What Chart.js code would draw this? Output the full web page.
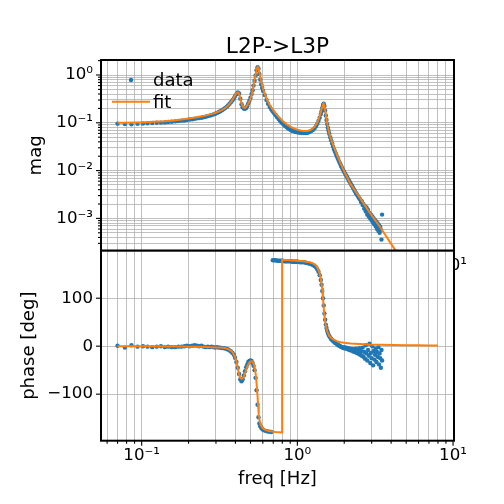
<!DOCTYPE html>
<html>
<head>
<meta charset="utf-8">
<title>L2P->L3P</title>
<script src="https://cdn.jsdelivr.net/npm/chart.js@4.4.1/dist/chart.umd.min.js"></script>
<style>
  html, body { margin: 0; padding: 0; background: #fff; }
  #wrap { position: relative; width: 504px; height: 504px; }
  #wrap canvas { position: absolute; left: 0; top: 0; }
</style>
</head>
<body>
<div id="wrap">
  <canvas id="mag-chart" width="504" height="504"></canvas>
  <canvas id="phase-chart" width="504" height="504"></canvas>
</div>
<script>
const freqData = [
  0.070, 0.078, 0.086, 0.094, 0.102, 0.109, 0.117, 0.125, 0.133, 0.141,
  0.148, 0.156, 0.164, 0.172, 0.180, 0.188, 0.195, 0.203, 0.211, 0.219,
  0.227, 0.234, 0.242, 0.250, 0.258, 0.266, 0.273, 0.281, 0.289, 0.297,
  0.305, 0.313, 0.320, 0.328, 0.336, 0.344, 0.352, 0.359, 0.367, 0.375,
  0.383, 0.391, 0.398, 0.406, 0.414, 0.422, 0.430, 0.438, 0.445, 0.453,
  0.461, 0.469, 0.477, 0.484, 0.492, 0.500, 0.508, 0.516, 0.523, 0.531,
  0.539, 0.547, 0.555, 0.563, 0.570, 0.578, 0.586, 0.594, 0.602, 0.617,
  0.633, 0.648, 0.664, 0.680, 0.695, 0.711, 0.727, 0.742, 0.758, 0.773,
  0.789, 0.805, 0.820, 0.836, 0.852, 0.867, 0.883, 0.898, 0.914, 0.930,
  0.945, 0.961, 0.977, 0.992, 1.008, 1.039, 1.070, 1.102, 1.133, 1.164,
  1.195, 1.227, 1.258, 1.289, 1.320, 1.344, 1.367, 1.391, 1.414, 1.430,
  1.445, 1.461, 1.477, 1.492, 1.508, 1.523, 1.539, 1.555, 1.570, 1.586,
  1.602, 1.625, 1.648, 1.672, 1.695, 1.719, 1.742, 1.766, 1.789, 1.813,
  1.836, 1.859, 1.883, 1.906, 1.930, 1.953, 1.977, 2.000, 2.031, 2.063,
  2.094, 2.125, 2.156, 2.188, 2.219, 2.250, 2.281, 2.313, 2.344, 2.375,
  2.406, 2.438, 2.469, 2.500, 2.531, 2.563, 2.594, 2.625, 2.656, 2.688,
  2.719, 2.750, 2.781, 2.813, 2.844, 2.875, 2.906, 2.938, 2.969, 3.000,
  3.031, 3.063, 3.094, 3.125, 3.156, 3.188, 3.219, 3.250, 3.281, 3.313,
  3.344, 3.375, 3.406, 3.438, 3.469, 3.500
];
const magData = [
  0.096, 0.094, 0.093, 0.095, 0.097, 0.098, 0.099, 0.100, 0.101, 0.102,
  0.104, 0.105, 0.107, 0.109, 0.111, 0.112, 0.114, 0.117, 0.118, 0.121,
  0.124, 0.126, 0.128, 0.131, 0.134, 0.138, 0.141, 0.145, 0.150, 0.155,
  0.161, 0.168, 0.175, 0.183, 0.193, 0.205, 0.218, 0.232, 0.250, 0.272,
  0.297, 0.326, 0.362, 0.398, 0.430, 0.410, 0.320, 0.245, 0.212, 0.198,
  0.196, 0.205, 0.225, 0.255, 0.290, 0.335, 0.400, 0.480, 0.600, 0.760,
  0.980, 1.250, 1.450, 1.350, 1.050, 0.800, 0.640, 0.540, 0.470, 0.380,
  0.300, 0.250, 0.215, 0.190, 0.172, 0.157, 0.144, 0.131, 0.120, 0.111,
  0.103, 0.097, 0.091, 0.086, 0.082, 0.078, 0.075, 0.072, 0.070, 0.068,
  0.067, 0.066, 0.065, 0.064, 0.063, 0.062, 0.061, 0.061, 0.061, 0.062,
  0.064, 0.067, 0.071, 0.077, 0.086, 0.096, 0.110, 0.128, 0.152, 0.175,
  0.205, 0.235, 0.250, 0.225, 0.180, 0.142, 0.115, 0.094, 0.079, 0.068,
  0.059, 0.050, 0.043, 0.037, 0.032, 0.028, 0.025, 0.0225, 0.0203, 0.0183,
  0.0166, 0.0152, 0.0139, 0.0127, 0.0117, 0.0108, 0.0100, 0.0093, 0.0085, 0.0078,
  0.0071, 0.0065, 0.0060, 0.0055, 0.0051, 0.0047, 0.0043, 0.0040, 0.0037, 0.0034,
  0.0032, 0.0030, 0.0028, 0.0026, 0.0025, 0.0022, 0.0023, 0.0019, 0.0020, 0.0016,
  0.0018, 0.0014, 0.0017, 0.0012, 0.0015, 0.0011, 0.0013, 0.0010, 0.0012, 0.00090,
  0.00110, 0.00082, 0.00100, 0.00075, 0.00092, 0.00068, 0.00085, 0.00060, 0.00078, 0.00055,
  0.00072, 0.00050, 0.00066, 0.00058, 0.00036, 0.00120
];
const phaseData = [
  1, -3, 2, -1, 0, -1, -2, -1, 0, -2,
  -1, -2, -2, -1, -1, 0, 1, 0, 1, 2,
  1, 0, 1, -1, -2, -1, -2, -1, -2, -3,
  -2, -3, -3, -4, -4, -5, -6, -7, -9, -11,
  -14, -18, -24, -33, -45, -58, -69, -73, -69, -61,
  -52, -44, -38, -33, -31, -30, -31, -35, -41, -50,
  -66, -92, -122, -148, -161, -167, -170, -172, -174, -176,
  -177, -178, -178, -179, 179, 179, 179, 178, 178, 178,
  178, 178, 177, 177, 177, 177, 177, 177, 177, 176,
  176, 176, 176, 176, 176, 175, 175, 175, 174, 173,
  172, 171, 169, 167, 164, 160, 155, 148, 138, 128,
  115, 100, 85, 68, 55, 45, 38, 32, 28, 24,
  21, 18, 15, 13, 11, 9, 7, 6, 5, 3,
  2, 1, 0, -1, -2, -3, -4, -2, -5, -3,
  -6, -4, -8, -5, -9, -6, -11, -7, -12, -5,
  -14, -8, -16, -4, -18, -10, -20, -3, -22, -12,
  -26, 2, -15, -30, -8, -20, 5, -35, -14, -25,
  0, -40, -10, -28, -18, -5, -33, -12, -22, -2,
  -38, -15, -25, -45, -8, -30
];

// fitted model
const freqFit = [
  0.070, 0.080, 0.090, 0.100, 0.120, 0.140, 0.160, 0.180, 0.200, 0.220,
  0.240, 0.260, 0.280, 0.300, 0.320, 0.340, 0.360, 0.380, 0.395, 0.405,
  0.412, 0.418, 0.425, 0.432, 0.440, 0.450, 0.460, 0.470, 0.480, 0.490,
  0.500, 0.510, 0.520, 0.530, 0.540, 0.548, 0.555, 0.560, 0.565, 0.570,
  0.580, 0.590, 0.605, 0.620, 0.640, 0.660, 0.690, 0.720, 0.760, 0.798,
  0.798, 0.850, 0.900, 0.950, 1.000, 1.050, 1.100, 1.150, 1.200, 1.250,
  1.300, 1.340, 1.380, 1.410, 1.440, 1.460, 1.475, 1.490, 1.510, 1.530,
  1.560, 1.600, 1.650, 1.700, 1.800, 1.900, 2.000, 2.200, 2.500, 2.900,
  3.400, 4.200, 5.000, 6.000, 7.000, 8.000
];
const magFit = [
  0.100, 0.100, 0.101, 0.102, 0.105, 0.108, 0.112, 0.117, 0.123, 0.129,
  0.135, 0.143, 0.152, 0.163, 0.178, 0.198, 0.232, 0.290, 0.360, 0.410,
  0.435, 0.430, 0.380, 0.300, 0.240, 0.210, 0.205, 0.215, 0.240, 0.275,
  0.320, 0.400, 0.530, 0.780, 1.050, 1.300, 1.480, 1.450, 1.320, 1.150,
  0.860, 0.660, 0.490, 0.390, 0.300, 0.245, 0.195, 0.162, 0.132, 0.112,
  0.112, 0.094, 0.083, 0.076, 0.072, 0.069, 0.067, 0.067, 0.070, 0.075,
  0.085, 0.100, 0.128, 0.160, 0.210, 0.245, 0.255, 0.235, 0.180, 0.135,
  0.092, 0.062, 0.044, 0.034, 0.021, 0.0138, 0.0096, 0.0052, 0.0028, 0.00135,
  0.00066, 0.00023, 0.000105, 0.000046, 0.000024, 0.000014
];
const phaseFit = [
  0, 0, 0, -0.3, -0.4, -0.5, -0.6, -0.8, -1, -1,
  -1.2, -1.5, -2, -2.5, -3, -4, -6, -11, -20, -30,
  -42, -52, -62, -67, -68, -65, -58, -48, -40, -35,
  -32, -31, -34, -42, -58, -80, -105, -125, -142, -152,
  -163, -168, -172, -174, -176, -177, -178, -179, -179.5, -180,
  180, 179.5, 179, 178.5, 178, 177.5, 177, 176, 175, 173,
  170, 165, 155, 143, 122, 100, 82, 65, 50, 40,
  30, 22, 17, 14, 10, 8, 7, 5.5, 4.5, 3.5,
  3, 2.5, 2, 1.8, 1.5, 1.5
];

// axis ticks and labels
const freqMajor = [0.1, 1, 10];
const freqMinor = [0.06, 0.07, 0.08, 0.09, 0.2, 0.3, 0.4, 0.5, 0.6, 0.7, 0.8, 0.9, 2, 3, 4, 5, 6, 7, 8, 9];
const freqTickLabels = ["10⁻¹", "10⁰", "10¹"];
const magMajor = [0.001, 0.01, 0.1, 1];
const magMinor = [0.0003, 0.0004, 0.0005, 0.0006, 0.0007, 0.0008, 0.0009,
  0.002, 0.003, 0.004, 0.005, 0.006, 0.007, 0.008, 0.009,
  0.02, 0.03, 0.04, 0.05, 0.06, 0.07, 0.08, 0.09,
  0.2, 0.3, 0.4, 0.5, 0.6, 0.7, 0.8, 0.9, 2];
const magTickLabels = ["10⁻³", "10⁻²", "10⁻¹", "10⁰"];
const phaseMajor = [-100, 0, 100];
const phaseTickLabels = ["−100", "0", "100"];

const blue = "#1f77b4";
const orange = "#ff7f0e";
const gridGrey = "#b0b0b0";
const tickSize = 16.67;
const labelSize = 18.06;
const titleSize = 21.67;

Chart.defaults.font.family = "'DejaVu Sans', sans-serif";
Chart.defaults.font.size = tickSize;
Chart.defaults.color = "#000";

let pairs = function (xs, ys) {
  return xs.map((x, i) => ({ x: x, y: ys[i] }));
};

let sameValue = function (a, b) {
  return Math.abs(a - b) <= Math.abs(b) * 1e-6;
};

let labelFor = function (majors, labels) {
  return function (value) {
    const i = majors.findIndex(m => sameValue(value, m));
    return i < 0 ? "" : labels[i];
  };
};

let setTicks = function (values) {
  return function (scale) {
    scale.ticks = values
      .filter(v => v >= scale.min && v <= scale.max)
      .sort((a, b) => a - b)
      .map(v => ({ value: v }));
  };
};

// black box round the axes plus outward tick marks (long for majors)
let framePlugin = function (xMajor, yMajor) {
  return {
    id: "frame",
    afterDatasetsDraw(chart) {
      const ctx = chart.ctx, a = chart.chartArea;
      ctx.save();
      ctx.strokeStyle = "#000";
      ctx.lineWidth = 1.1;
      ["x", "y"].forEach(id => {
        const scale = chart.scales[id];
        const majors = id === "x" ? xMajor : yMajor;
        scale.ticks.forEach(t => {
          const len = majors.some(m => sameValue(t.value, m)) ? 5 : 3;
          const p = scale.getPixelForValue(t.value);
          ctx.beginPath();
          if (id === "x") {
            ctx.moveTo(p, a.bottom);
            ctx.lineTo(p, a.bottom + len);
          } else {
            ctx.moveTo(a.left, p);
            ctx.lineTo(a.left - len, p);
          }
          ctx.stroke();
        });
      });
      ctx.lineWidth = 2;
      ctx.strokeRect(a.left, a.top, a.right - a.left, a.bottom - a.top);
      ctx.restore();
    }
  };
};

// white face for the lower axes, it hides the upper axes' x labels
const whiteFace = {
  id: "whiteFace",
  beforeDraw(chart) {
    const a = chart.chartArea;
    chart.ctx.save();
    chart.ctx.fillStyle = "#fff";
    chart.ctx.fillRect(a.left, a.top, a.right - a.left, a.bottom - a.top);
    chart.ctx.restore();
  }
};

// frameless legend in the upper left corner
const cornerLegend = {
  id: "cornerLegend",
  afterDraw(chart) {
    const ctx = chart.ctx, a = chart.chartArea;
    const sets = chart.data.datasets;
    ctx.save();
    ctx.fillStyle = blue;
    ctx.beginPath();
    ctx.arc(a.left + 30, a.top + 20, 2.2, 0, Math.PI * 2);
    ctx.fill();
    ctx.strokeStyle = orange;
    ctx.lineWidth = 2;
    ctx.beginPath();
    ctx.moveTo(a.left + 11, a.top + 41.7);
    ctx.lineTo(a.left + 49, a.top + 41.7);
    ctx.stroke();
    ctx.fillStyle = "#000";
    ctx.font = labelSize + "px 'DejaVu Sans', sans-serif";
    ctx.textBaseline = "alphabetic";
    ctx.fillText(sets[0].label, a.left + 52, a.top + 26);
    ctx.fillText(sets[1].label, a.left + 52, a.top + 48.3);
    ctx.restore();
  }
};

let gridOpts = {
  color: gridGrey,
  lineWidth: 0.8,
  tickLength: 5,
  tickColor: "rgba(0,0,0,0)"
};

let freqAxis = function (height, withTitle) {
  return {
    type: "logarithmic",
    min: 0.0548,
    max: 10.14,
    bounds: "data",
    afterBuildTicks: setTicks(freqMajor.concat(freqMinor)),
    afterFit(scale) { scale.height = height; },
    grid: gridOpts,
    border: { display: false },
    ticks: {
      autoSkip: false, maxRotation: 0, minRotation: 0, padding: 0,
      callback: labelFor(freqMajor, freqTickLabels)
    },
    title: {
      display: withTitle,
      text: "freq [Hz]",
      font: { size: labelSize },
      padding: { top: 0, bottom: 14.3 }
    }
  };
};

new Chart("mag-chart", {
  type: "scatter",
  data: {
    datasets: [
      {
        label: "data",
        data: pairs(freqData, magData),
        showLine: false,
        pointRadius: 2.2,
        pointBorderWidth: 0,
        backgroundColor: blue,
        borderColor: blue,
        order: 1
      },
      {
        label: "fit",
        data: pairs(freqFit, magFit),
        showLine: true,
        pointRadius: 0,
        borderWidth: 2,
        borderColor: orange,
        backgroundColor: orange,
        order: 0
      }
    ]
  },
  options: {
    responsive: false,
    animation: false,
    events: [],
    layout: { padding: { left: 0, right: 50, top: 0, bottom: 190 } },
    plugins: {
      legend: { display: false },
      tooltip: { enabled: false },
      title: {
        display: true,
        text: "L2P->L3P",
        fullSize: false,
        color: "#000",
        font: { size: titleSize, weight: "normal" },
        padding: { top: 34, bottom: 0 }
      }
    },
    scales: {
      x: freqAxis(63.3, false),
      y: {
        type: "logarithmic",
        min: 2.11e-4,
        max: 2.06,
        bounds: "data",
        afterBuildTicks: setTicks(magMajor.concat(magMinor)),
        afterFit(scale) { scale.width = 101; },
        grid: gridOpts,
        border: { display: false },
        ticks: { autoSkip: false, padding: 3, callback: labelFor(magMajor, magTickLabels) },
        title: { display: true, text: "mag", font: { size: labelSize }, padding: { top: 25.9, bottom: 0 } }
      }
    }
  },
  plugins: [framePlugin(freqMajor, magMajor), cornerLegend]
});

new Chart("phase-chart", {
  type: "scatter",
  data: {
    datasets: [
      {
        label: "data",
        data: pairs(freqData, phaseData),
        showLine: false,
        pointRadius: 2.2,
        pointBorderWidth: 0,
        backgroundColor: blue,
        borderColor: blue,
        order: 1
      },
      {
        label: "fit",
        data: pairs(freqFit, phaseFit),
        showLine: true,
        pointRadius: 0,
        borderWidth: 2,
        borderColor: orange,
        backgroundColor: orange,
        order: 0
      }
    ]
  },
  options: {
    responsive: false,
    animation: false,
    events: [],
    layout: { padding: { left: 0, right: 50, top: 250.7, bottom: 0 } },
    plugins: {
      legend: { display: false },
      tooltip: { enabled: false }
    },
    scales: {
      x: freqAxis(63.3, true),
      y: {
        type: "linear",
        min: -197,
        max: 199,
        bounds: "data",
        afterBuildTicks: setTicks(phaseMajor),
        afterFit(scale) { scale.width = 101; },
        grid: gridOpts,
        border: { display: false },
        ticks: { autoSkip: false, padding: 3, callback: labelFor(phaseMajor, phaseTickLabels) },
        title: { display: true, text: "phase [deg]", font: { size: labelSize }, padding: { top: 18.2, bottom: 0 } }
      }
    }
  },
  plugins: [whiteFace, framePlugin(freqMajor, phaseMajor)]
});
</script>
</body>
</html>
